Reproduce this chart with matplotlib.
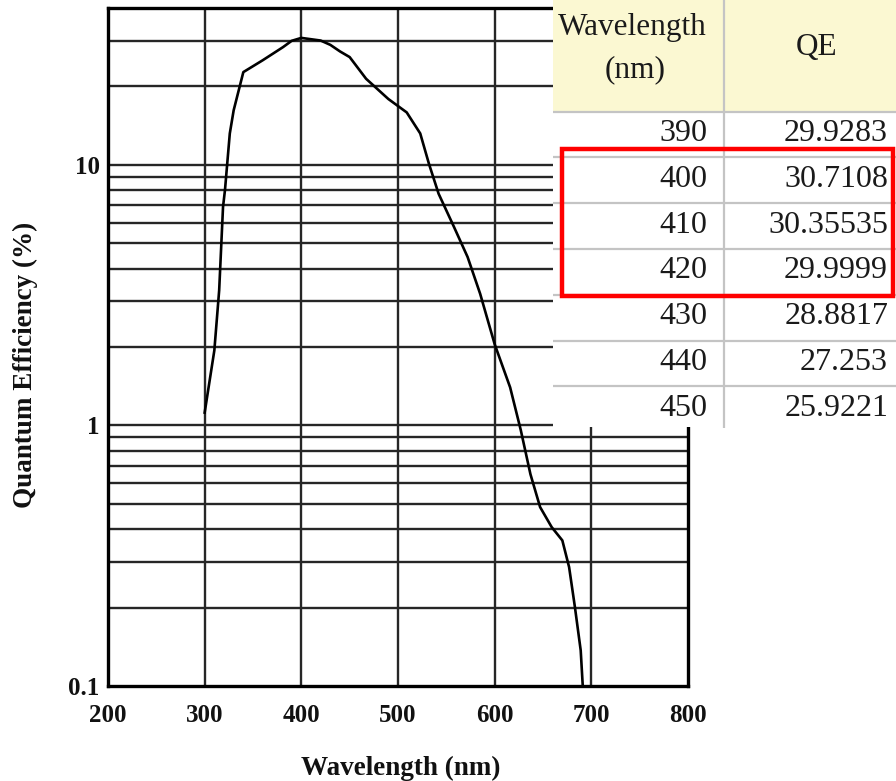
import matplotlib
matplotlib.use("Agg")
import matplotlib.pyplot as plt
from matplotlib.patches import Rectangle
from matplotlib.ticker import FixedLocator, NullFormatter
import numpy as np

# ---- quantum efficiency curve (nm, %) ----
uv_wavelength = [300, 310, 315, 319, 321, 326, 330, 340, 360, 381]
uv_qe = [1.12, 1.94, 3.3, 6.9, 8.0, 13.2, 16.2, 22.7, 25.2, 28.3]

# tabulated values around the peak
table_wavelength = [390, 400, 410, 420, 430, 440, 450]
table_qe = ["29.9283", "30.7108", "30.35535", "29.9999", "28.8817", "27.253", "25.9221"]

red_wavelength = [467, 490, 509, 523, 532, 542, 558, 572, 585, 600, 616,
                  627, 637, 647, 659, 670, 677, 683, 689, 691]
red_qe = [21.4, 17.9, 15.9, 13.2, 10.1, 7.75, 5.77, 4.43, 3.2, 2.05, 1.4,
          0.96, 0.65, 0.486, 0.407, 0.362, 0.286, 0.201, 0.137, 0.102]

highlight_rows = [400, 410, 420]

x_ticks = [200, 300, 400, 500, 600, 700, 800]
y_ticks = [0.1, 1, 10]
y_tick_labels = ["0.1", "1", "10"]

wavelength = uv_wavelength + table_wavelength + red_wavelength
qe = uv_qe + [float(v) for v in table_qe] + red_qe

W, H = 896, 781
fig = plt.figure(figsize=(W / 100, H / 100), dpi=100)
fig.patch.set_facecolor("white")

serif = "Liberation Serif"

# ---- main log-scale chart ----
ax = fig.add_axes([108 / W, 1 - 686 / H, 580 / W, 678 / H])
ax.set_yscale("log")
ax.set_xlim(200, 800)
ax.set_ylim(0.1, 40)

grid_color = "#262626"
minor_levels = [m * 10.0 ** e for e in (-1, 0, 1) for m in range(2, 10)]
minor_levels = [v for v in minor_levels if v < 40]
for v in [1, 10] + minor_levels:
    ax.axhline(v, color=grid_color, lw=1.7, zorder=1)
for x in x_ticks[1:-1]:
    ax.axvline(x, color=grid_color, lw=1.7, zorder=1)

ax.plot(wavelength, qe, color="black", lw=1.9, zorder=3)

ax.xaxis.set_major_locator(FixedLocator(x_ticks))
ax.yaxis.set_major_locator(FixedLocator(y_ticks))
ax.yaxis.set_minor_locator(FixedLocator([]))
ax.yaxis.set_minor_formatter(NullFormatter())
ax.set_yticklabels(y_tick_labels)
ax.set_xticklabels([str(t) for t in x_ticks])
ax.tick_params(axis="both", which="both", length=0)
ax.tick_params(axis="x", pad=13)
ax.tick_params(axis="y", pad=6)
for lab in ax.get_xticklabels() + ax.get_yticklabels():
    lab.set_fontfamily(serif)
    lab.set_fontweight("bold")
    lab.set_fontsize(18)
    lab.set_color("#111111")
for sp in ax.spines.values():
    sp.set_linewidth(2.4)
    sp.set_color("black")

fig.text(401 / W, 1 - 768 / H, "Wavelength (nm)", ha="center", va="center",
         fontfamily=serif, fontweight="bold", fontsize=19.5, color="#111111")
fig.text(25 / W, 1 - 365 / H, "Quantum Efficiency (%)", ha="center", va="center",
         rotation=90, fontfamily=serif, fontweight="bold", fontsize=19.5,
         color="#111111")

# ---- data table panel ----
tx0, tx1, ty1 = 553, 896, 428
tax = fig.add_axes([tx0 / W, 1 - ty1 / H, (tx1 - tx0) / W, ty1 / H])
tax.set_xlim(tx0, tx1)
tax.set_ylim(ty1, 0)
tax.set_xticks([])
tax.set_yticks([])
for sp in tax.spines.values():
    sp.set_visible(False)
tax.patch.set_alpha(0)

header_h = 111.7
row_h = 45.8
col_split = 723.5
line_gray = "#c4c4c4"

tax.add_patch(Rectangle((tx0, 0), tx1 - tx0, ty1 - 1, facecolor="white",
                        edgecolor="none", zorder=0))
tax.add_patch(Rectangle((tx0, 0), tx1 - tx0, header_h, facecolor="#fbf8d2",
                        edgecolor="none", zorder=1))
tax.plot([col_split, col_split], [0, ty1], color=line_gray, lw=1.6, zorder=2)
for i in range(len(table_wavelength)):
    y = header_h + i * row_h
    tax.plot([tx0, tx1], [y, y], color=line_gray, lw=1.6, zorder=2)

txt_color = "#1a1a1a"
tax.text(632, 28, "Wavelength", ha="center",
         va="center", fontfamily=serif, fontsize=22.5, color=txt_color, zorder=3)
tax.text(635, 70, "(nm)", ha="center",
         va="center", fontfamily=serif, fontsize=22.5, color=txt_color, zorder=3)
tax.text(817, 47, "QE", ha="center",
         va="center", fontfamily=serif, fontsize=22.5, color=txt_color, zorder=3)
for i, (wl, q) in enumerate(zip(table_wavelength, table_qe)):
    yc = header_h + (i + 0.5) * row_h - 1
    tax.text(707, yc, str(wl), ha="right", va="center", fontfamily=serif,
             fontsize=23, color=txt_color, zorder=3)
    tax.text(888, yc, q, ha="right", va="center", fontfamily=serif,
             fontsize=23, color=txt_color, zorder=3)

# red box around highlighted rows
i0 = table_wavelength.index(highlight_rows[0])
i1 = table_wavelength.index(highlight_rows[-1])
top = header_h + i0 * row_h - 8.5
bottom = header_h + (i1 + 1) * row_h + 0.8
tax.add_patch(Rectangle((561.5, top), 331, bottom - top, facecolor="none",
                        edgecolor="#ff0000", lw=3.2, zorder=4))

fig.savefig("out.png", dpi=100)
